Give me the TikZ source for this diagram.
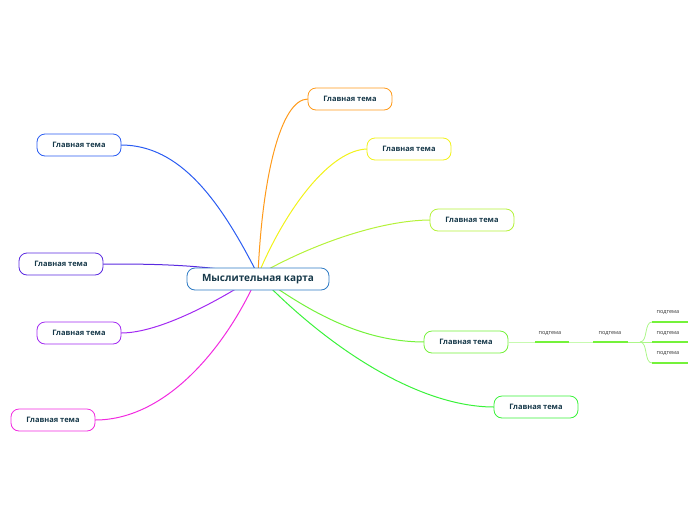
\documentclass[tikz,border=0pt]{standalone}
\usepackage{fontspec}
\setmainfont{Open Sans}
\definecolor{txt}{HTML}{17394A}
\definecolor{cblue}{HTML}{2E7BC4}
\definecolor{corange}{HTML}{FF9A1A}
\definecolor{cyellow}{HTML}{F2F21A}
\definecolor{clime}{HTML}{B5F23A}
\definecolor{cgreen}{HTML}{74F23A}
\definecolor{cgreenb}{HTML}{3AF23A}
\definecolor{cnavy}{HTML}{2A5CF2}
\definecolor{cindigo}{HTML}{5A2AE0}
\definecolor{cviolet}{HTML}{A22AF2}
\definecolor{cpink}{HTML}{F22AE0}
\tikzstyle{mainBox} = [rectangle, rounded corners=8pt, minimum width=142pt, minimum height=22pt, text centered, draw=cblue, thick, fill=white, font=\bfseries\fontsize{10}{12}\selectfont, text=txt]
\tikzstyle{topicBox} = [rectangle, rounded corners=8pt, minimum width=84pt, minimum height=22pt, text centered, thick, fill=white, font=\bfseries\fontsize{7.5}{9}\selectfont, text=txt]
\tikzstyle{subLabel} = [font=\fontsize{5.5}{7}\selectfont, text=black!80]
\tikzstyle{branch} = [line width=1pt]
\begin{document}
\begin{tikzpicture}[x=1pt,y=-1pt]
\useasboundingbox (0,0) rectangle (696,520);

\coordinate (hub) at (258,275);
% branches
\draw [branch, corange] (hub) .. controls (262,180) and (280,99) .. (308,99);
\draw [branch, cyellow] (hub) .. controls (285,210) and (330,149) .. (368,149);
\draw [branch, clime] (hub) .. controls (310,245) and (380,220) .. (431,220);
\draw [branch, cgreen] (hub) .. controls (320,320) and (370,342) .. (425,342);
\draw [branch, cgreenb] (hub) .. controls (330,350) and (420,407) .. (494,407);
\draw [branch, cnavy] (hub) .. controls (220,200) and (180,145) .. (121,145);
\draw [branch, cindigo] (hub) .. controls (200,264) and (150,264) .. (103,264);
\draw [branch, cviolet] (hub) .. controls (220,300) and (160,333) .. (121,333);
\draw [branch, cpink] (hub) .. controls (230,340) and (170,420) .. (95,420);

\node (root) [mainBox] at (258,279) {Мыслительная карта};
\node (tOrange) [topicBox, draw=corange] at (350,99) {Главная тема};
\node (tYellow) [topicBox, draw=cyellow] at (409,149) {Главная тема};
\node (tLime) [topicBox, draw=clime] at (472,220) {Главная тема};
\node (tGreen) [topicBox, draw=cgreen] at (466,342) {Главная тема};
\node (tGreenB) [topicBox, draw=cgreenb] at (536,407) {Главная тема};
\node (tNavy) [topicBox, draw=cnavy] at (79,145) {Главная тема};
\node (tIndigo) [topicBox, draw=cindigo] at (61,264) {Главная тема};
\node (tViolet) [topicBox, draw=cviolet] at (79,333) {Главная тема};
\node (tPink) [topicBox, draw=cpink] at (53,420) {Главная тема};

% subtopics
\coordinate (s1a) at (535,342);
\coordinate (s1b) at (569,342);
\coordinate (s2a) at (593,342);
\coordinate (s2b) at (628,342);
\coordinate (fork) at (640,342);
\node (l1) [subLabel] at (550,334) {подтема};
\node (l2) [subLabel] at (610,334) {подтема};
\node (l3) [subLabel] at (668,313) {подтема};
\node (l4) [subLabel] at (668,334) {подтема};
\node (l5) [subLabel] at (668,354) {подтема};
\draw [cgreen!40, thick] (tGreen.east) -- (s1a);
\draw [cgreen, line width=1.5pt] (s1a) -- (s1b);
\draw [cgreen!40, thick] (s1b) -- (s2a);
\draw [cgreen, line width=1.5pt] (s2a) -- (s2b);
\draw [cgreen!60, thick] (s2b) -- (fork);
\draw [cgreen!60, thick] (fork) .. controls (648,342) and (644,322) .. (652,322);
\draw [cgreen!60, thick] (fork) -- (652,342);
\draw [cgreen!60, thick] (fork) .. controls (648,342) and (644,363) .. (652,363);
\draw [cgreen, line width=1.5pt] (652,322) -- (688,322);
\draw [cgreen, line width=1.5pt] (652,342) -- (688,342);
\draw [cgreen, line width=1.5pt] (652,363) -- (688,363);
\end{tikzpicture}
\end{document}
